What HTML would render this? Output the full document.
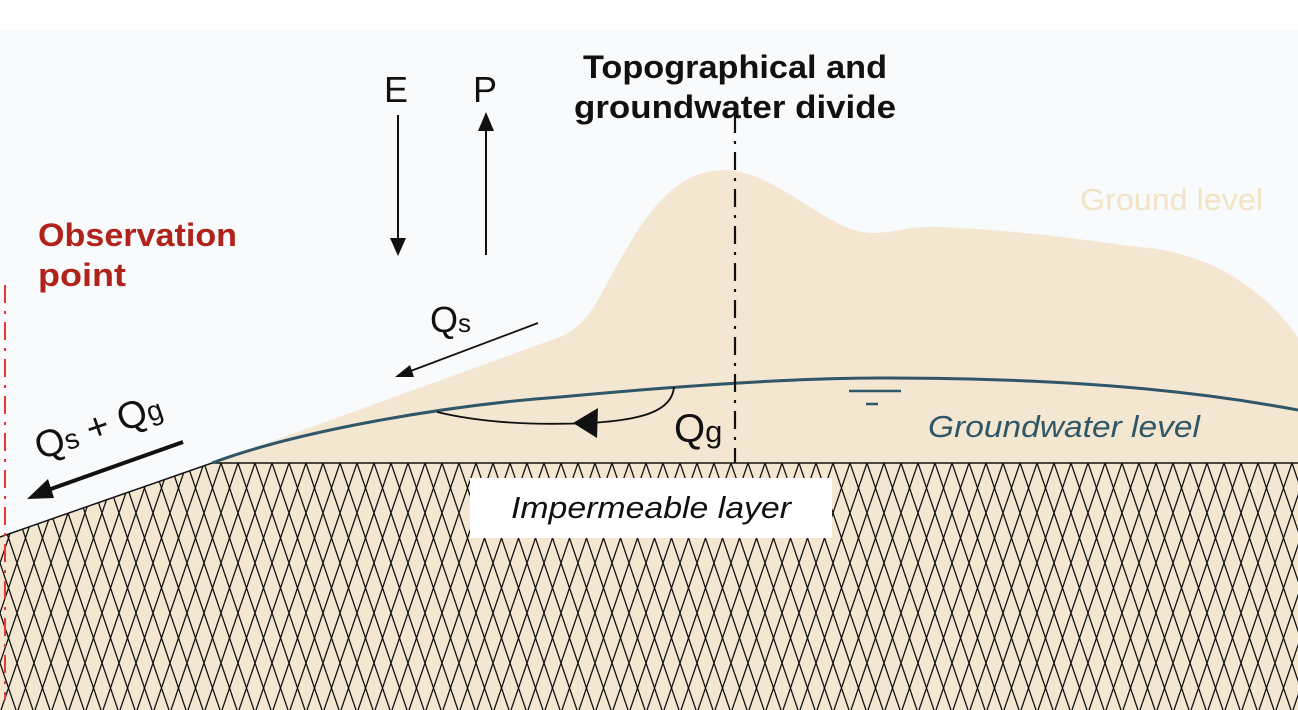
<!DOCTYPE html>
<html><head><meta charset="utf-8"><style>
html,body{margin:0;padding:0;background:#fff;}
svg{display:block;}
text{font-family:"Liberation Sans",Arial,sans-serif;}
</style></head><body>
<svg width="1298" height="710" viewBox="0 0 1298 710" xmlns="http://www.w3.org/2000/svg">
<defs>
<pattern id="hatch" x="0" y="463" width="17" height="50" patternUnits="userSpaceOnUse">
<rect width="17" height="50" fill="#f4e7d1"/>
<path d="M0,0 L17,50 M17,0 L0,50" stroke="#111" stroke-width="1.3" fill="none"/>
</pattern>
</defs>
<rect x="0" y="30" width="1298" height="680" fill="#f8fafc"/>
<path d="M212,463 L560,337 C575,330 584,322 595,305 C630,245 660,170 725,170 C780,172 830,235 875,233 C900,232 910,224 960,228 C1050,233 1100,243 1150,248 C1210,256 1260,285 1298,337 L1298,463 Z" fill="#f4e7d1"/>
<path d="M0,537 L212,463 L1298,463 L1298,710 L0,710 Z" fill="url(#hatch)"/>
<path d="M0,537 L212,463 L1298,463" stroke="#111" stroke-width="1.5" fill="none"/>
<path d="M212,463 C300,430 450,405 560,397 C700,384 800,378 881,378 C1050,378 1180,388 1298,410" stroke="#2f5768" stroke-width="3" fill="none"/>
<line x1="849" y1="391" x2="901" y2="391" stroke="#2f5768" stroke-width="2.5"/>
<line x1="866" y1="404" x2="878" y2="404" stroke="#2f5768" stroke-width="2.5"/>
<rect x="470" y="478" width="362" height="60" fill="#fff"/>
<text x="651" y="518" font-size="31" font-style="italic" text-anchor="middle" fill="#111" textLength="280" lengthAdjust="spacingAndGlyphs">Impermeable layer</text>
<line x1="735" y1="115" x2="735" y2="463" stroke="#111" stroke-width="2.2" stroke-dasharray="18,8,3,8"/>
<line x1="5" y1="285" x2="5" y2="700" stroke="#e53935" stroke-width="2" stroke-dasharray="18,8,3,8"/>
<text x="38" y="246" font-size="32" font-weight="bold" fill="#b0231a" textLength="199" lengthAdjust="spacingAndGlyphs">Observation</text>
<text x="38" y="286" font-size="32" font-weight="bold" fill="#b0231a" textLength="88" lengthAdjust="spacingAndGlyphs">point</text>
<text x="396" y="102" font-size="36" text-anchor="middle" fill="#111">E</text>
<text x="485" y="102" font-size="36" text-anchor="middle" fill="#111">P</text>
<line x1="398" y1="115" x2="398" y2="240" stroke="#111" stroke-width="2"/>
<polygon points="390,238 406,238 398,256" fill="#111"/>
<line x1="486" y1="255" x2="486" y2="128" stroke="#111" stroke-width="2"/>
<polygon points="478,131 494,131 486,112" fill="#111"/>
<text x="735" y="78" font-size="32" font-weight="bold" text-anchor="middle" fill="#111" textLength="304" lengthAdjust="spacingAndGlyphs">Topographical and</text>
<text x="735" y="118" font-size="32" font-weight="bold" text-anchor="middle" fill="#111" textLength="322" lengthAdjust="spacingAndGlyphs">groundwater divide</text>
<text x="1080" y="210" font-size="31" fill="#f3e3c4" textLength="183" lengthAdjust="spacingAndGlyphs">Ground level</text>
<text x="430" y="332" font-size="36" fill="#111">Q<tspan font-size="26">s</tspan></text>
<line x1="538" y1="323" x2="408" y2="372" stroke="#111" stroke-width="1.8"/>
<polygon points="395,377 410,365 414,377" fill="#111"/>
<text x="674" y="442" font-size="40" fill="#111">Q<tspan font-size="31">g</tspan></text>
<path d="M674,387 C672,412 640,420 590,423 C520,426 470,420 437,412" stroke="#111" stroke-width="1.8" fill="none"/>
<polygon points="573,423 598,408 597,438" fill="#111"/>
<text transform="translate(40,460) rotate(-19)" font-size="38" fill="#111">Q<tspan font-size="28">s</tspan> + Q<tspan font-size="28">g</tspan></text>
<line x1="183" y1="442" x2="48" y2="490" stroke="#111" stroke-width="4"/>
<polygon points="27,499 48,479 54,498" fill="#111"/>
<text x="928" y="437" font-size="31" font-style="italic" fill="#2f5768" textLength="272" lengthAdjust="spacingAndGlyphs">Groundwater level</text>
</svg>
</body></html>
